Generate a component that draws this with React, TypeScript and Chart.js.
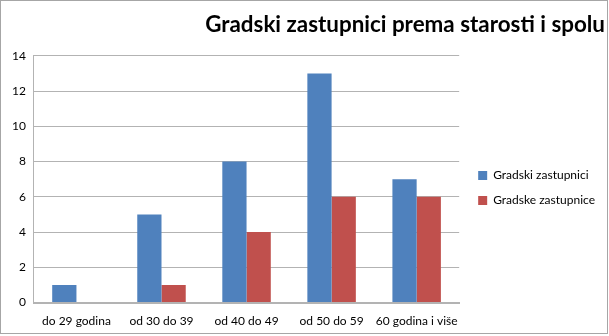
import React, { useEffect, useRef } from "react";
import Chart from "chart.js/auto";

const categories = ["do 29 godina", "od 30 do 39", "od 40 do 49", "od 50 do 59", "60 godina i više"];
const seriesNames = ["Gradski zastupnici", "Gradske zastupnice"];
const muski = [1, 5, 8, 13, 7];
const zenske = [0, 1, 4, 6, 6];
const titleText = "Gradski zastupnici prema starosti i spolu";

const legendGapPlugin = {
  id: "legendGap",
  afterInit(chart: any) {
    const lg = chart.legend;
    if (!lg) return;
    const extra = 6;
    const origFit = lg.fit.bind(lg);
    lg.fit = function () {
      origFit();
      this.width += extra;
    };
    const origDraw = lg.draw.bind(lg);
    lg.draw = function () {
      const ctx = this.ctx;
      ctx.save();
      ctx.translate(extra, 0);
      origDraw();
      ctx.restore();
    };
  },
};

export default function App() {
  const ref = useRef<HTMLCanvasElement | null>(null);
  useEffect(() => {
    if (!ref.current) return;
    const font = "Lato, 'Open Sans', sans-serif";
    const chart = new Chart(ref.current, {
      type: "bar",
      data: {
        labels: categories,
        datasets: [
          { label: seriesNames[0], data: muski, backgroundColor: "#4F81BD", categoryPercentage: 0.57, barPercentage: 1 },
          { label: seriesNames[1], data: zenske, backgroundColor: "#C0504D", categoryPercentage: 0.57, barPercentage: 1 },
        ],
      },
      options: {
        animation: false,
        responsive: true,
        maintainAspectRatio: false,
        layout: { padding: { left: 3, right: 2, top: 6, bottom: 2 } },
        plugins: {
          title: {
            display: true,
            text: titleText,
            align: "end",
            color: "#000",
            font: { family: font, size: 22.4, weight: "bold" },
            padding: { top: 4, bottom: 18 },
          },
          legend: {
            position: "right",
            title: { display: true, text: " ", font: { size: 1 }, padding: { top: 37, bottom: 0 } },
            labels: {
              boxWidth: 9,
              boxHeight: 9,
              color: "#000",
              padding: 13,
              font: { family: font, size: 12 },
            },
          },
          tooltip: { enabled: false },
        },
        scales: {
          x: {
            grid: { display: false },
            border: { color: "#b3b3b3", width: 2 },
            ticks: { color: "#000", font: { family: font, size: 12 }, padding: 3, maxRotation: 0, autoSkip: false },
          },
          y: {
            min: 0,
            max: 14,
            ticks: { stepSize: 2, color: "#000", font: { family: font, size: 12 }, padding: 8 },
            grid: { color: "#b3b3b3", lineWidth: 1, drawTicks: false },
            border: { color: "#b3b3b3", width: 1 },
          },
        },
      },
      plugins: [legendGapPlugin],
    });
    return () => chart.destroy();
  }, []);
  return (
    <div style={{ position: "absolute", left: 0, top: 0, width: 606, height: 332, border: "1px solid #a6a6a6", background: "#fff" }}>
      <div style={{ position: "relative", width: 606, height: 332 }}>
        <canvas ref={ref} />
      </div>
    </div>
  );
}
